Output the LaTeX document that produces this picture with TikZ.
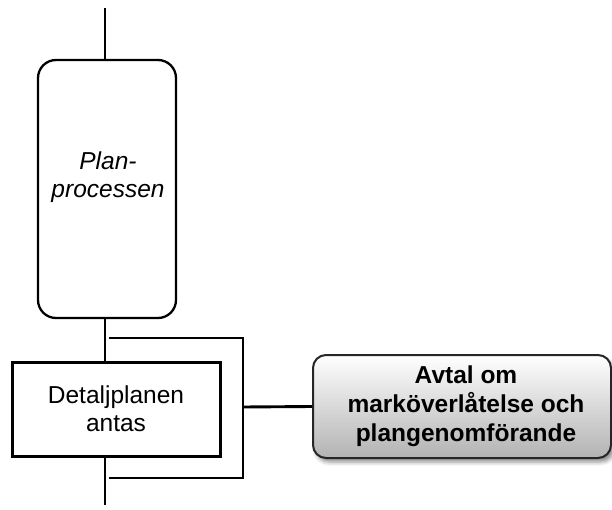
\documentclass[tikz,border=0pt]{standalone}
\usepackage{fontspec}
\setmainfont{Liberation Sans}
\usetikzlibrary{shadows.blur}
\begin{document}
\begin{tikzpicture}[x=1pt,y=-1pt,
  txt/.style={font=\fontsize{24.5}{28}\selectfont, align=center},
  planbox/.style={draw=black, line width=2.3pt, rounded corners=18pt, minimum width=138pt, minimum height=258pt, inner sep=0pt},
  stepbox/.style={draw=black, line width=3pt, minimum width=208pt, minimum height=94pt, inner sep=0pt, txt},
  avtalbox/.style={draw=black!85, line width=2pt, rounded corners=13pt, minimum width=298pt, minimum height=103pt, inner sep=0pt,
     top color=white, bottom color=black!30,
     blur shadow={shadow xshift=3pt, shadow yshift=-4pt, shadow blur radius=4pt, shadow opacity=45},
     txt, font=\fontsize{24.5}{29}\selectfont\bfseries},
  wire/.style={line width=2.9pt},
]
\useasboundingbox (0,0) rectangle (612,510);
\node[planbox] (plan) at (107,189) {};
\node[txt, font=\fontsize{24.5}{28}\selectfont\itshape] (planlabel) at (108,177) {Plan-\\processen};
\node[stepbox] (detalj) at (116,409) {Detaljplanen\\antas};
\node[avtalbox] (avtal) at (462,406.5) {\hspace*{8pt}Avtal om\\\hspace*{8pt}marköverlåtelse och\\\hspace*{8pt}plangenomförande};
\coordinate (top) at (105,8);
\coordinate (bottom) at (105,505);
\coordinate (btl) at (109,338);
\coordinate (btr) at (243,338);
\coordinate (bbr) at (243,478);
\coordinate (bbl) at (109,478);
\coordinate (bmid) at (243,407);
\draw[wire] (top) -- (top |- plan.north);
\draw[wire] (top |- plan.south) -- (top |- detalj.north);
\draw[wire] (top |- detalj.south) -- (bottom);
\draw[wire] (btl) -- (btr) -- (bbr) -- (bbl);
\draw[wire] (bmid) -- (avtal.west);
\end{tikzpicture}
\end{document}
